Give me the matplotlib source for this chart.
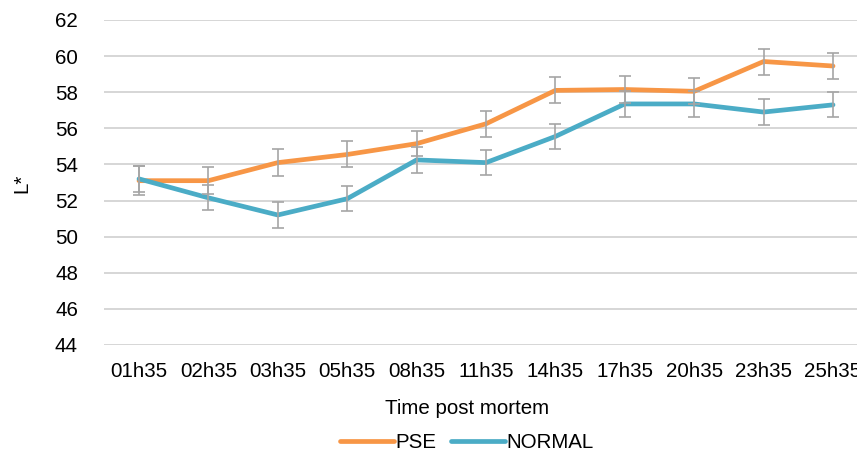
import matplotlib.pyplot as plt
import numpy as np

# values
times = ['01h35', '02h35', '03h35', '05h35', '08h35', '11h35',
         '14h35', '17h35', '20h35', '23h35', '25h35']
pse = [53.1, 53.1, 54.1, 54.55, 55.15, 56.25, 58.1, 58.15, 58.05, 59.7, 59.45]
pse_err = [0.8, 0.75, 0.75, 0.72, 0.7, 0.72, 0.72, 0.75, 0.72, 0.72, 0.72]
normal = [53.2, 52.15, 51.2, 52.1, 54.25, 54.1, 55.55, 57.35, 57.35, 56.9, 57.3]
normal_err = [0.7, 0.7, 0.7, 0.68, 0.7, 0.7, 0.68, 0.7, 0.7, 0.7, 0.7]

plt.rcParams['font.family'] = ['Liberation Sans', 'DejaVu Sans']

fig = plt.figure(figsize=(8.57, 4.54), dpi=100)
ax = fig.add_axes([0.1217, 0.2401, 0.8908, 0.7159])

x = np.arange(len(times))
orange = '#F79646'
blue = '#4BACC6'
grey = '#A5A5A5'

ax.plot(x, pse, color=orange, lw=3.4, label='PSE', zorder=3, solid_capstyle='round')
ax.plot(x, normal, color=blue, lw=3.4, label='NORMAL', zorder=3, solid_capstyle='round')
ax.errorbar(x, pse, yerr=pse_err, fmt='none', ecolor=grey, elinewidth=1.2,
            capsize=4.5, capthick=1.2, zorder=4)
ax.errorbar(x, normal, yerr=normal_err, fmt='none', ecolor=grey, elinewidth=1.2,
            capsize=4.5, capthick=1.2, zorder=4)

ax.set_xlim(-0.5, len(times) - 0.5)
ax.set_ylim(44, 62)
ax.set_yticks(np.arange(44, 63, 2))
ax.set_xticks(x)
ax.set_xticklabels(times)
ax.grid(axis='y', color='#D0D0D0', lw=1.2)
ax.set_axisbelow(True)
for s in ax.spines.values():
    s.set_visible(False)
ax.tick_params(axis='y', length=0, pad=19, labelsize=14.8, labelcolor='#000000')
ax.tick_params(axis='x', length=0, pad=12, labelsize=14.8, labelcolor='#000000')

fig.text(22 / 857, 1 - 183 / 454, 'L*', rotation=90, fontsize=14.8,
         ha='center', va='center')
fig.text(467 / 857, 1 - 408 / 454, 'Time post mortem', fontsize=14.8,
         ha='center', va='center')

fig.legend(loc='center', bbox_to_anchor=(467 / 857, 1 - 443 / 454), ncol=2,
           frameon=False, fontsize=14.8, handlelength=2.6, handletextpad=0.1,
           columnspacing=0.7)

fig.savefig('out.png', dpi=100)
